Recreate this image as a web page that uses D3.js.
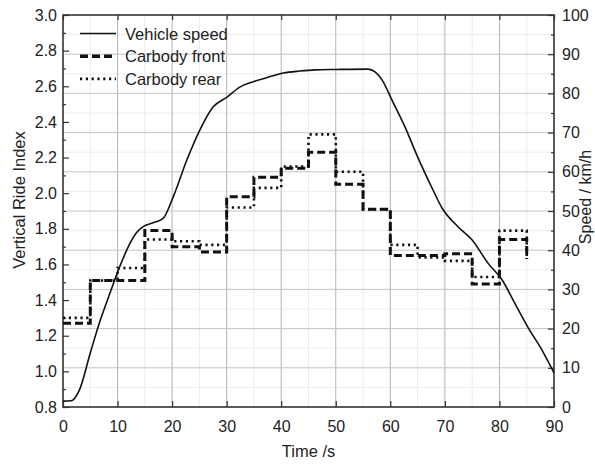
<!DOCTYPE html>
<html>
<head>
<meta charset="utf-8">
<script src="https://cdn.jsdelivr.net/npm/d3@7"></script>
<style>
  body { margin: 0; background: #fff; }
  text { font-family: "Liberation Sans", Arial, sans-serif; fill: #222; }
</style>
</head>
<body>
<div id="chart"></div>
<script>
// vehicle speed (time s, km/h)
const speedTime = [0, 1.5, 3, 5, 6.8, 8.6, 10.4, 12.3, 13.5, 14.7, 16.5, 18.4, 20.2, 22.7, 25.1, 27.5, 30, 32.4, 34.9, 37.3, 40.4, 43.4, 46.2, 50, 55.9, 57.2, 58.5, 60.3, 62.7, 65, 67.6, 69.5, 72.4, 75, 77.9, 80.5, 82.8, 85.2, 87.8, 90];
const speedVal = [1.5, 1.6, 4.3, 13.8, 22, 29, 35.8, 41.8, 44.5, 46, 47, 48.2, 53.6, 63, 70.7, 76.5, 79, 81.6, 83, 84, 85.2, 85.7, 86, 86.1, 86.2, 85.5, 83.4, 78.3, 71.4, 63.8, 56, 50.7, 46, 42.6, 36.7, 32.4, 26.5, 20.4, 14.5, 8.7];

// ride index, one value per 5 s step, last entry is where the line ends at 85 s
const stepTime = [0, 5, 10, 15, 20, 25, 30, 35, 40, 45, 50, 55, 60, 65, 70, 75, 80, 85];
const frontVal = [1.27, 1.51, 1.51, 1.79, 1.70, 1.67, 1.98, 2.09, 2.14, 2.23, 2.05, 1.91, 1.65, 1.65, 1.66, 1.49, 1.74, 1.63];
const rearVal  = [1.30, 1.51, 1.58, 1.74, 1.73, 1.71, 1.92, 2.03, 2.15, 2.33, 2.12, 1.91, 1.71, 1.64, 1.62, 1.53, 1.79, 1.63];

const xTicks = [0, 10, 20, 30, 40, 50, 60, 70, 80, 90];
const leftTicks = [0.8, 1.0, 1.2, 1.4, 1.6, 1.8, 2.0, 2.2, 2.4, 2.6, 2.8, 3.0];
const rightTicks = [0, 10, 20, 30, 40, 50, 60, 70, 80, 90, 100];

const legendNames = ["Vehicle speed", "Carbody front", "Carbody rear"];

let w = 595;
let h = 464;
const m = {left: 63, right: 41, top: 15, bottom: 57};

const svg = d3.select("#chart").
append("svg").
attr("width", w).
attr("height", h);

const xScale = d3.scaleLinear().domain([0, 90]).range([m.left, w - m.right]);
const yScale = d3.scaleLinear().domain([0.8, 3.0]).range([h - m.bottom, m.top]);
const sScale = d3.scaleLinear().domain([0, 100]).range([h - m.bottom, m.top]);

const x0 = m.left, x1 = w - m.right, y0 = m.top, y1 = h - m.bottom;

//grid, faint minor lines first
const grid = svg.append("g");
grid.selectAll(".vminor").
data(d3.range(5, 90, 10)).
enter().
append("line").
attr("x1", d => xScale(d)).attr("x2", d => xScale(d)).
attr("y1", y0).attr("y2", y1).
attr("stroke", "#ececec").attr("stroke-width", 1);

grid.selectAll(".hminor").
data(d3.range(5, 100, 10)).
enter().
append("line").
attr("x1", x0).attr("x2", x1).
attr("y1", d => sScale(d)).attr("y2", d => sScale(d)).
attr("stroke", "#ececec").attr("stroke-width", 1);

grid.selectAll(".vmajor").
data(xTicks.slice(1, -1)).
enter().
append("line").
attr("x1", d => xScale(d)).attr("x2", d => xScale(d)).
attr("y1", y0).attr("y2", y1).
attr("stroke", "#b4b4b4").attr("stroke-width", 1);

grid.selectAll(".hmajor").
data(rightTicks.slice(1, -1)).
enter().
append("line").
attr("x1", x0).attr("x2", x1).
attr("y1", d => sScale(d)).attr("y2", d => sScale(d)).
attr("stroke", "#c4c4c4").attr("stroke-width", 1);

//axes, ticks pointing inward
function styleAxis(g) {
  g.select(".domain").remove();
  g.selectAll(".tick line").attr("stroke", "#333").attr("stroke-width", 1.2);
  g.selectAll("text").style("font-size", "16px").attr("fill", "#222");
}

svg.append("g").
attr("transform", "translate(0," + y1 + ")").
call(d3.axisBottom(xScale).tickValues(xTicks).tickSize(-6).tickPadding(14).tickFormat(d3.format("d"))).
call(styleAxis);

svg.append("g").
attr("transform", "translate(0," + y0 + ")").
call(d3.axisTop(xScale).tickValues(xTicks).tickSize(-5).tickFormat("")).
call(styleAxis);

svg.append("g").
attr("transform", "translate(" + x0 + ",0)").
call(d3.axisLeft(yScale).tickValues(d3.range(0.9, 3.0, 0.2)).tickSize(-3).tickFormat("")).
call(styleAxis);

svg.append("g").
attr("transform", "translate(" + x0 + ",0)").
call(d3.axisLeft(yScale).tickValues(leftTicks).tickSize(-6).tickPadding(6).tickFormat(d3.format(".1f"))).
call(styleAxis);

svg.append("g").
attr("transform", "translate(" + x1 + ",0)").
call(d3.axisRight(sScale).tickValues(d3.range(5, 100, 10)).tickSize(-3).tickFormat("")).
call(styleAxis);

svg.append("g").
attr("transform", "translate(" + x1 + ",0)").
call(d3.axisRight(sScale).tickValues(rightTicks).tickSize(-6).tickPadding(8).tickFormat(d3.format("d"))).
call(styleAxis);

//frame
svg.append("rect").
attr("x", x0).attr("y", y0).
attr("width", x1 - x0).attr("height", y1 - y0).
attr("fill", "none").attr("stroke", "#333").attr("stroke-width", 1.6);

//series
const speedLine = d3.line().
x((d, i) => xScale(speedTime[i])).
y(d => sScale(d)).
curve(d3.curveMonotoneX);

const stepLine = d3.line().
x((d, i) => xScale(stepTime[i])).
y(d => yScale(d)).
curve(d3.curveStepAfter);

svg.append("path").
attr("d", stepLine(frontVal)).
attr("fill", "none").attr("stroke", "#111").
attr("stroke-width", 3).attr("stroke-dasharray", "8,4");

svg.append("path").
attr("d", stepLine(rearVal)).
attr("fill", "none").attr("stroke", "#111").
attr("stroke-width", 2.6).attr("stroke-dasharray", "2.2,3.6");

svg.append("path").
attr("d", speedLine(speedVal)).
attr("fill", "none").attr("stroke", "#111").
attr("stroke-width", 1.6);

//legend
const legendStyles = [
  {width: 1.4, dash: null},
  {width: 3.4, dash: "8,4"},
  {width: 2.6, dash: "2.2,3.6"}
];
const legend = svg.append("g");
legendNames.forEach((name, i) => {
  let ly = 33.5 + i * 22.7;
  legend.append("line").
  attr("x1", 80).attr("x2", 116).
  attr("y1", ly).attr("y2", ly).
  attr("stroke", "#111").
  attr("stroke-width", legendStyles[i].width).
  attr("stroke-dasharray", legendStyles[i].dash);
  legend.append("text").
  attr("x", 125).
  attr("y", ly + 6).
  style("font-size", "16.5px").
  text(name);
});

//axis titles
svg.append("text").
attr("x", (x0 + x1) / 2).
attr("y", 457).
attr("text-anchor", "middle").
style("font-size", "16.5px").
text("Time /s");

svg.append("text").
attr("transform", "translate(25,200) rotate(-90)").
attr("text-anchor", "middle").
style("font-size", "16.5px").
text("Vertical Ride Index");

//right title sits against the window edge, as in the reference
svg.append("text").
attr("transform", "translate(591,197) rotate(-90)").
attr("text-anchor", "middle").
style("font-size", "16px").
text("Speed / km/h");
</script>
</body>
</html>
